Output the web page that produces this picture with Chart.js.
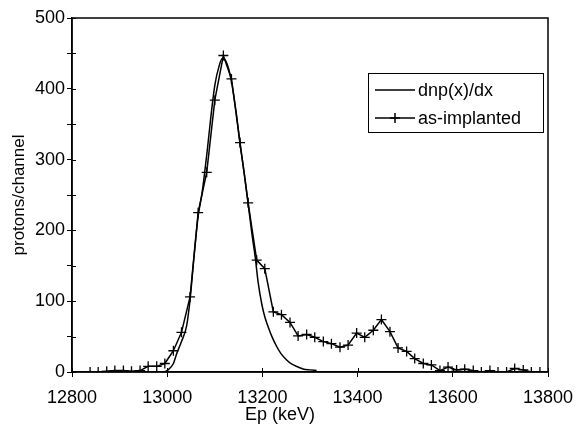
<!DOCTYPE html>
<html>
<head>
<meta charset="utf-8">
<script src="https://cdn.jsdelivr.net/npm/chart.js@4.4.1/dist/chart.umd.min.js"></script>
<style>
  html, body { margin: 0; padding: 0; background: #ffffff; }
  #wrap { width: 577px; height: 426px; }
</style>
</head>
<body>
<div id="wrap"><canvas id="c" width="577" height="426"></canvas></div>
<script>
// ---- data ----
const asImplantedEnergy = [12838, 12855, 12873, 12890, 12908, 12925, 12943, 12960, 12978, 12995,
  13013, 13030, 13048, 13065, 13083, 13100, 13118, 13135, 13153, 13170,
  13188, 13205, 13223, 13240, 13258, 13275, 13293, 13310, 13328, 13345,
  13363, 13380, 13398, 13415, 13433, 13450, 13468, 13485, 13503, 13520,
  13538, 13555, 13573, 13590, 13608, 13625, 13643, 13660, 13678, 13695,
  13713, 13730, 13748, 13765, 13783];
const asImplantedCounts = [0, 0, 1, 2, 2, 1, 2, 8, 8, 12,
  30, 56, 106, 225, 282, 384, 447, 414, 324, 239,
  158, 146, 85, 81, 70, 51, 53, 49, 43, 40,
  35, 38, 55, 49, 59, 74, 57, 34, 29, 19,
  12, 10, 2, 7, 3, 4, 2, 0, 2, 0,
  0, 5, 3, 0, 0];

const dnpEnergy = [12960, 12991, 13002, 13013, 13020, 13030, 13041, 13048, 13056, 13065,
  13073, 13077, 13084, 13092, 13100, 13109, 13116, 13124, 13134, 13145,
  13153, 13162, 13170, 13178, 13185, 13191, 13199, 13205, 13212, 13220,
  13230, 13239, 13251, 13262, 13275, 13287, 13300, 13314];
const dnpValues = [0, 0, 3, 12, 26, 43, 66, 102, 160, 220,
  252, 272, 312, 362, 405, 432, 443, 438, 414, 366,
  322, 280, 238, 195, 162, 127, 95, 78, 64, 50,
  36, 26, 17, 11, 7, 4, 3, 2];

const xTickValues = [12800, 13000, 13200, 13400, 13600, 13800];
const yTickLabels = [0, 100, 200, 300, 400, 500];
const seriesNames = ['dnp(x)/dx', 'as-implanted'];
const xTitle = 'Ep (keV)';
const yTitle = 'protons/channel';

const FONT = "'Liberation Sans', Arial, sans-serif";

const toPoints = (xs, ys) => xs.map((x, i) => ({ x: x, y: ys[i] }));

// frame, crossing tick marks, legend and x title
const decor = {
  id: 'decor',
  afterDraw(chart) {
    const ctx = chart.ctx;
    const a = chart.chartArea;
    const xs = chart.scales.x, ys = chart.scales.y;
    ctx.save();
    ctx.strokeStyle = '#000';
    ctx.lineWidth = 1.5;
    ctx.strokeRect(a.left, a.top, a.right - a.left, a.bottom - a.top);
    // inward halves of tick marks
    ctx.lineWidth = 1;
    ctx.beginPath();
    xs.ticks.forEach(t => {
      const px = Math.round(xs.getPixelForValue(t.value)) + 0.5;
      ctx.moveTo(px, a.bottom); ctx.lineTo(px, a.bottom - 4);
    });
    ys.ticks.forEach(t => {
      const py = Math.round(ys.getPixelForValue(t.value)) + 0.5;
      ctx.moveTo(a.left, py); ctx.lineTo(a.left + 4, py);
    });
    ctx.stroke();

    // legend box
    const bx = a.right - 180, by = a.top + 55, bw = 175, bh = 59;
    ctx.fillStyle = '#fff';
    ctx.fillRect(bx, by, bw, bh);
    ctx.lineWidth = 1;
    ctx.strokeRect(bx + 0.5, by + 0.5, bw, bh);
    ctx.font = '18px ' + FONT;
    ctx.textBaseline = 'middle';
    ctx.fillStyle = '#000';
    const rows = [by + 17, by + 45];
    chart.data.datasets.forEach((ds, i) => {
      const y = rows[i];
      ctx.beginPath();
      ctx.lineWidth = 1.5;
      ctx.moveTo(bx + 7, y); ctx.lineTo(bx + 47, y);
      ctx.stroke();
      if (i === 1) {
        ctx.beginPath();
        ctx.moveTo(bx + 27, y - 5); ctx.lineTo(bx + 27, y + 5);
        ctx.moveTo(bx + 22, y); ctx.lineTo(bx + 32, y);
        ctx.stroke();
      }
      ctx.fillText(ds.label, bx + 50, y + 1);
    });

    // x axis title
    ctx.font = '18px ' + FONT;
    ctx.textAlign = 'center';
    ctx.textBaseline = 'alphabetic';
    ctx.fillText(xTitle, (a.left + a.right) / 2 - 30, chart.height - 6);
    ctx.restore();
  }
};

new Chart(document.getElementById('c'), {
  type: 'scatter',
  data: {
    datasets: [
      {
        label: seriesNames[0],
        data: toPoints(dnpEnergy, dnpValues),
        showLine: true,
        borderColor: '#000',
        borderWidth: 1.5,
        pointRadius: 0,
        cubicInterpolationMode: 'monotone',
        fill: false
      },
      {
        label: seriesNames[1],
        data: toPoints(asImplantedEnergy, asImplantedCounts),
        showLine: true,
        borderColor: '#000',
        borderWidth: 1.5,
        pointStyle: 'cross',
        pointRadius: 5,
        pointBorderWidth: 1.3,
        pointBorderColor: '#000',
        pointBackgroundColor: '#000',
        tension: 0,
        fill: false
      }
    ]
  },
  options: {
    responsive: false,
    animation: false,
    devicePixelRatio: 1,
    layout: { padding: { top: 18, right: 29, left: 0, bottom: 0 } },
    plugins: { legend: { display: false }, tooltip: { enabled: false } },
    scales: {
      x: {
        type: 'linear',
        min: xTickValues[0],
        max: xTickValues[xTickValues.length - 1],
        afterBuildTicks: s => { s.ticks = xTickValues.map(v => ({ value: v })); },
        afterFit: s => { s.height = 54; s.paddingLeft = 0; s.paddingRight = 0; },
        grid: { display: true, drawOnChartArea: false, drawTicks: true, tickLength: 5, color: '#000', lineWidth: 1 },
        border: { display: true, color: '#000', width: 1.5 },
        ticks: {
          color: '#000', font: { family: FONT, size: 18 }, padding: 10,
          maxRotation: 0, autoSkip: false,
          callback: v => String(v)
        },
        title: { display: false }
      },
      y: {
        type: 'linear',
        min: yTickLabels[0],
        max: yTickLabels[yTickLabels.length - 1],
        afterFit: s => { s.width = 72; s.paddingTop = 0; s.paddingBottom = 0; },
        grid: { display: true, drawOnChartArea: false, drawTicks: true, tickLength: 5, color: '#000', lineWidth: 1 },
        border: { display: true, color: '#000', width: 1.5 },
        ticks: {
          stepSize: 50, color: '#000', font: { family: FONT, size: 18 }, padding: 2,
          autoSkip: false,
          callback: v => (yTickLabels.includes(v) ? String(v) : '')
        },
        title: {
          display: true, text: yTitle, color: '#000',
          font: { family: FONT, size: 17 }, padding: { top: 9, bottom: 0 }
        }
      }
    }
  },
  plugins: [decor]
});
</script>
</body>
</html>
